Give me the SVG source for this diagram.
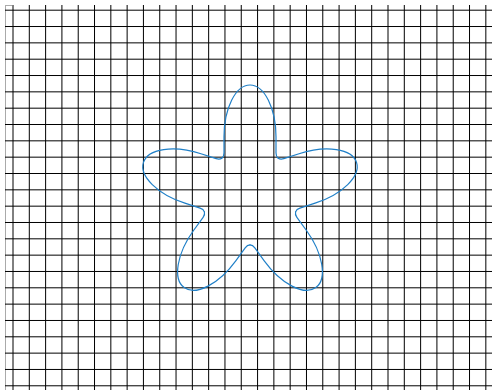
<svg xmlns="http://www.w3.org/2000/svg" xmlns:xlink="http://www.w3.org/1999/xlink" width="492" height="390" viewBox="0 0 492 390">
<style>
.grid{fill:none;stroke:#000;stroke-width:1}
.edge{fill:none;stroke:#aaa;stroke-width:1}
.curve{fill:none;stroke:#2080c8;stroke-width:1.2;stroke-linecap:round;stroke-linejoin:round}
</style>
<defs>
<path id="lobe" class="curve" d="M-28.2,-38.8 C-26.2,-40.3 -26,-41.5 -26,-44 L-26,-60 A26,52 0 0 1 26,-60 L26,-44 C26,-41.5 26.2,-40.3 28.2,-38.8"/>
</defs>
<rect width="492" height="390" fill="#fff"/>
<g id="grid">
<path class="edge" d="M5.5,5V390 M5,5.5H12"/>
<path class="grid" d="M13,5V390 M29.3,5V390 M45.61,5V390 M61.91,5V390 M78.22,5V390 M94.52,5V390 M110.83,5V390 M127.13,5V390 M143.43,5V390 M159.74,5V390 M176.04,5V390 M192.35,5V390 M208.65,5V390 M224.96,5V390 M241.26,5V390 M257.57,5V390 M273.87,5V390 M290.17,5V390 M306.48,5V390 M322.78,5V390 M339.09,5V390 M355.39,5V390 M371.7,5V390 M388,5V390 M404.3,5V390 M420.61,5V390 M436.91,5V390 M453.22,5V390 M469.52,5V390 M485.83,5V390 M5,10.2H492 M5,26.53H492 M5,42.86H492 M5,59.19H492 M5,75.52H492 M5,91.85H492 M5,108.18H492 M5,124.51H492 M5,140.84H492 M5,157.17H492 M5,173.5H492 M5,189.83H492 M5,206.16H492 M5,222.49H492 M5,238.82H492 M5,255.15H492 M5,271.48H492 M5,287.81H492 M5,304.14H492 M5,320.47H492 M5,336.8H492 M5,353.13H492 M5,369.46H492 M5,385.79H492"/>
</g>
<g id="star" transform="translate(250,197)">
<use xlink:href="#lobe" href="#lobe"/>
<use xlink:href="#lobe" href="#lobe" transform="rotate(72)"/>
<use xlink:href="#lobe" href="#lobe" transform="rotate(144)"/>
<use xlink:href="#lobe" href="#lobe" transform="rotate(216)"/>
<use xlink:href="#lobe" href="#lobe" transform="rotate(288)"/>
</g>
</svg>
